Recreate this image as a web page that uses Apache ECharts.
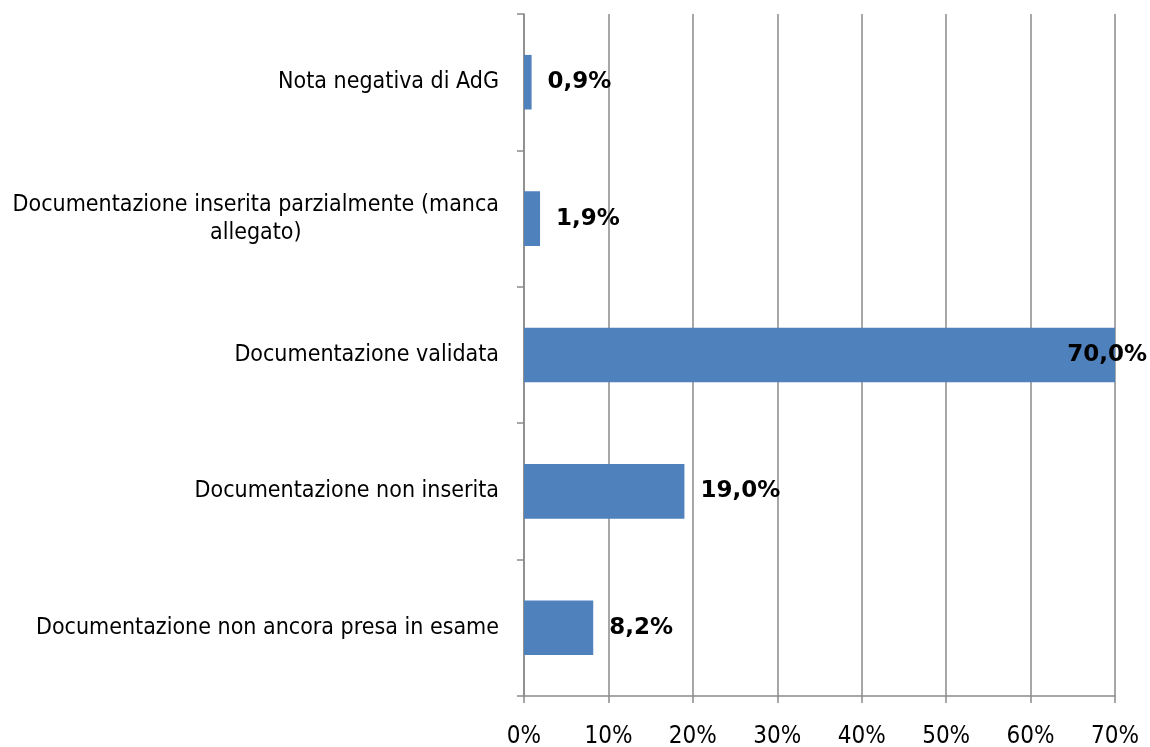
<!DOCTYPE html>
<html>
<head>
<meta charset="utf-8">
<script src="https://cdn.jsdelivr.net/npm/echarts@6/dist/echarts.min.js"></script>
<style>
  html, body { margin: 0; padding: 0; background: #fff; }
  #chart { width: 1150px; height: 747px; }
</style>
</head>
<body>
<div id="chart"></div>
<script>
// categorie dal basso verso l'alto
const categories = [
  'Documentazione non ancora presa in esame',
  'Documentazione non inserita',
  'Documentazione validata',
  'Documentazione inserita parzialmente (manca allegato)',
  'Nota negativa di AdG'
];
const values = [8.2, 19.0, 70.0, 1.9, 0.9];
const xTicks = [0, 10, 20, 30, 40, 50, 60, 70];

const chart = echarts.init(document.getElementById('chart'));
const fontFam = '"DejaVu Sans Condensed", "DejaVu Sans"';
const gray = '#8a8a8a';

function fmt(v) {
  return v.toFixed(1).replace('.', ',') + '%';
}

const seriesData = values.map(function (v) {
  const item = { value: v };
  if (v >= xTicks[xTicks.length - 1]) {
    // etichetta tagliata dentro l'area come in Excel
    item.label = { position: 'insideRight', offset: [48, 0] };
  }
  return item;
});

const option = {
  animation: false,
  grid: {
    left: 524, right: 35, top: 14, bottom: 51,
    containLabel: false,
    outerBoundsMode: 'none'
  },
  xAxis: {
    type: 'value',
    min: xTicks[0],
    max: xTicks[xTicks.length - 1],
    interval: 10,
    axisLine: { show: true, lineStyle: { color: gray, width: 1.5 } },
    axisTick: { show: true, length: 7, lineStyle: { color: gray, width: 1.5 } },
    splitLine: { show: true, lineStyle: { color: gray, width: 1.5 } },
    axisLabel: {
      formatter: '{value}%',
      color: '#000',
      fontFamily: fontFam,
      fontSize: 24,
      margin: 29
    }
  },
  yAxis: {
    type: 'category',
    data: categories,
    axisLine: { show: true, lineStyle: { color: gray, width: 1.5 } },
    axisTick: { show: true, length: 7, lineStyle: { color: gray, width: 1.5 } },
    splitLine: { show: false },
    axisLabel: {
      color: '#000',
      fontFamily: fontFam,
      fontSize: 23,
      margin: 25,
      align: 'right',
      formatter: function (val) {
        if (val.indexOf('(manca') >= 0) {
          const i = val.indexOf('allegato');
          return '{c|' + val.slice(0, i).trim() + '}\n{c|' + val.slice(i) + '}';
        }
        return val;
      },
      rich: {
        c: { align: 'center', fontFamily: fontFam, fontSize: 23, color: '#000', lineHeight: 28 }
      }
    }
  },
  series: [{
    type: 'bar',
    data: seriesData,
    barWidth: '40%',
    itemStyle: { color: '#4f81bd' },
    label: {
      show: true,
      position: 'right',
      distance: 16,
      color: '#000',
      fontFamily: 'DejaVu Sans',
      fontWeight: 'bold',
      fontSize: 23,
      formatter: function (p) { return fmt(p.value); }
    }
  }]
};

chart.setOption(option);
</script>
</body>
</html>
